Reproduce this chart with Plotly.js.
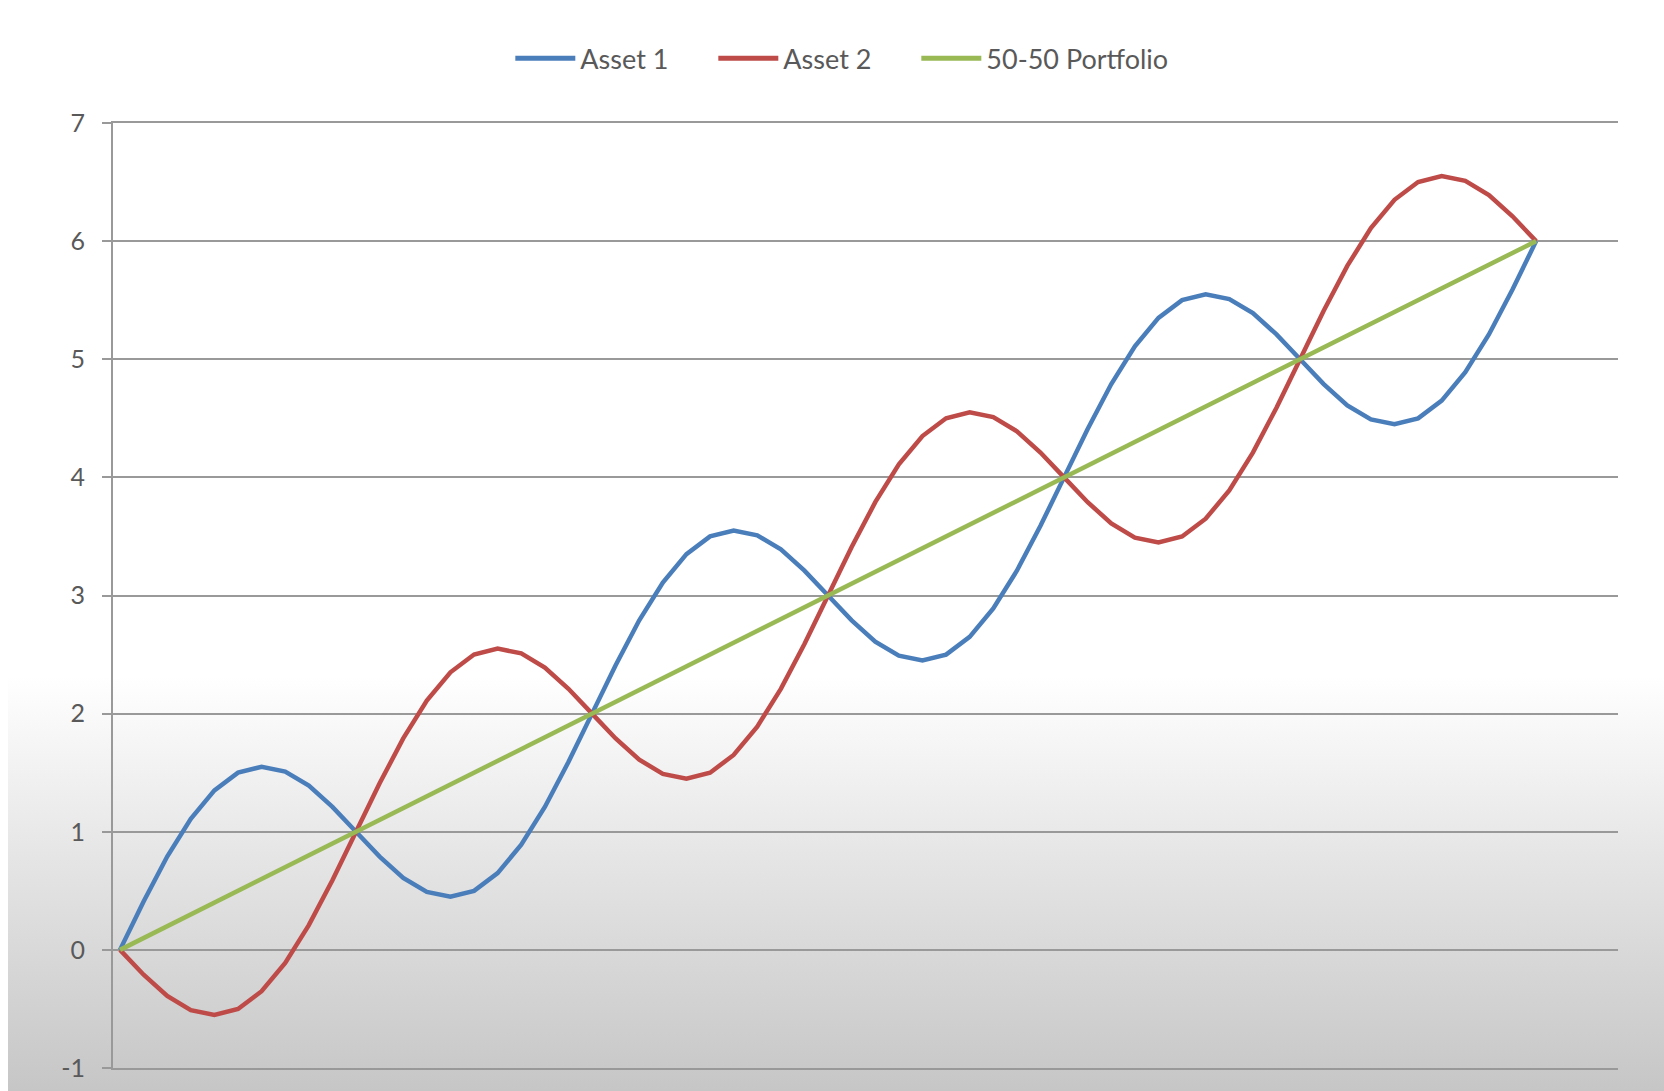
<!DOCTYPE html>
<html>
<head>
<meta charset="utf-8">
<script src="https://cdn.plot.ly/plotly-3.0.1.min.js"></script>
<style>
  html, body { margin: 0; padding: 0; }
  body {
    width: 1664px; height: 1091px; overflow: hidden;
    background:
      linear-gradient(to right, #ffffff 0px, #ffffff 8px, rgba(255,255,255,0) 8px),
      linear-gradient(to bottom, #ffffff 0%, #ffffff 62%, #e6e6e6 78%, #c6c6c6 100%);
  }
  #chart { width: 1664px; height: 1091px; }
</style>
</head>
<body>
<div id="chart"></div>
<script>
// Period (x) values
const xValues = [0.0,0.1,0.2,0.3,0.4,0.5,0.6,0.7,0.8,0.9,
  1.0,1.1,1.2,1.3,1.4,1.5,1.6,1.7,1.8,1.9,
  2.0,2.1,2.2,2.3,2.4,2.5,2.6,2.7,2.8,2.9,
  3.0,3.1,3.2,3.3,3.4,3.5,3.6,3.7,3.8,3.9,
  4.0,4.1,4.2,4.3,4.4,4.5,4.6,4.7,4.8,4.9,
  5.0,5.1,5.2,5.3,5.4,5.5,5.6,5.7,5.8,5.9,6.0];

const asset1 = [0.00,0.41,0.79,1.11,1.35,1.50,1.55,1.51,1.39,1.21,
  1.00,0.79,0.61,0.49,0.45,0.50,0.65,0.89,1.21,1.59,
  2.00,2.41,2.79,3.11,3.35,3.50,3.55,3.51,3.39,3.21,
  3.00,2.79,2.61,2.49,2.45,2.50,2.65,2.89,3.21,3.59,
  4.00,4.41,4.79,5.11,5.35,5.50,5.55,5.51,5.39,5.21,
  5.00,4.79,4.61,4.49,4.45,4.50,4.65,4.89,5.21,5.59,6.00];

const asset2 = [0.00,-0.21,-0.39,-0.51,-0.55,-0.50,-0.35,-0.11,0.21,0.59,
  1.00,1.41,1.79,2.11,2.35,2.50,2.55,2.51,2.39,2.21,
  2.00,1.79,1.61,1.49,1.45,1.50,1.65,1.89,2.21,2.59,
  3.00,3.41,3.79,4.11,4.35,4.50,4.55,4.51,4.39,4.21,
  4.00,3.79,3.61,3.49,3.45,3.50,3.65,3.89,4.21,4.59,
  5.00,5.41,5.79,6.11,6.35,6.50,6.55,6.51,6.39,6.21,6.00];

const portfolio = [0.0,0.1,0.2,0.3,0.4,0.5,0.6,0.7,0.8,0.9,
  1.0,1.1,1.2,1.3,1.4,1.5,1.6,1.7,1.8,1.9,
  2.0,2.1,2.2,2.3,2.4,2.5,2.6,2.7,2.8,2.9,
  3.0,3.1,3.2,3.3,3.4,3.5,3.6,3.7,3.8,3.9,
  4.0,4.1,4.2,4.3,4.4,4.5,4.6,4.7,4.8,4.9,
  5.0,5.1,5.2,5.3,5.4,5.5,5.6,5.7,5.8,5.9,6.0];

const seriesNames = ["Asset 1", "Asset 2", "50-50 Portfolio"];
const yTicks = [-1, 0, 1, 2, 3, 4, 5, 6, 7];

const traces = [
  { x: xValues, y: asset1, name: seriesNames[0], type: "scatter", mode: "lines",
    line: { color: "#4a7ebb", width: 4.5 }, legendwidth: 128 },
  { x: xValues, y: asset2, name: seriesNames[1], type: "scatter", mode: "lines",
    line: { color: "#be4b48", width: 4.5 }, legendwidth: 128 },
  { x: xValues, y: portfolio, name: seriesNames[2], type: "scatter", mode: "lines",
    line: { color: "#98b954", width: 4.5 }, legendwidth: 200 }
];

const layout = {
  width: 1664, height: 1091,
  margin: { l: 113, r: 46, t: 123, b: 23 },
  paper_bgcolor: "rgba(0,0,0,0)",
  plot_bgcolor: "rgba(0,0,0,0)",
  font: { family: "Lato, 'Open Sans', sans-serif", color: "#595959" },
  showlegend: true,
  legend: {
    orientation: "h", x: 0.264, xanchor: "left", y: 1.068, yanchor: "middle",
    font: { size: 27, color: "#595959" }, bgcolor: "rgba(0,0,0,0)",
    traceorder: "normal", itemwidth: 60, itemsizing: "constant"
  },
  xaxis: {
    range: [-0.0297, 6.347], showgrid: false, zeroline: false,
    showticklabels: false, showline: true, mirror: true,
    linecolor: "#999999", linewidth: 2, ticks: ""
  },
  yaxis: {
    range: [-1, 7], tickvals: yTicks, ticktext: yTicks.map(String),
    showgrid: true, gridcolor: "#999999", gridwidth: 2,
    zeroline: false, showline: true, linecolor: "#999999", linewidth: 2,
    ticks: "outside", ticklen: 9, tickcolor: "#999999", tickwidth: 2,
    ticklabelstandoff: 12,
    tickfont: { size: 25, color: "#595959" }
  }
};

Plotly.newPlot("chart", traces, layout, { displayModeBar: false, staticPlot: true });
</script>
</body>
</html>
